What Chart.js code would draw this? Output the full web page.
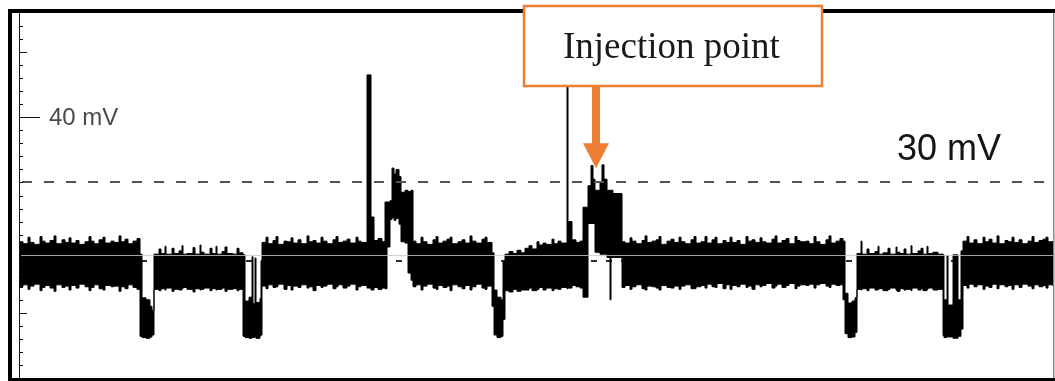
<!DOCTYPE html>
<html>
<head>
<meta charset="utf-8">
<title>Scope trace</title>
<script src="https://cdn.jsdelivr.net/npm/chart.js@4.4.1/dist/chart.umd.min.js"></script>
<style>
  html, body { margin: 0; padding: 0; background: #fff; }
  #wrap { width: 1055px; height: 381px; }
</style>
</head>
<body>
<div id="wrap"><canvas id="trace" width="1055" height="381"></canvas></div>
<script>
// peak-detect trace: for every sample time the max and min of the signal (mV)
// each value holds until the next sample time (stepped)
const traceTime = [
  // quiet band
  1, 4, 9, 11, 15, 21, 23, 26, 31, 35, 37, 43, 46, 50, 52, 57, 60, 66, 70, 72, 75, 80, 84, 86, 92, 95, 100, 102, 106, 109, 114, 118,
  // dip
  121, 123, 127, 131, 133,
  // low band
  135, 140, 142, 146, 147, 153, 155, 160, 163, 164, 168, 174, 176, 181, 182, 185, 191, 193, 197, 198, 203, 206, 208, 214, 218, 220,
  // double dip
  224, 226, 230, 233, 234, 236, 237, 241, 242,
  // quiet band
  243, 247, 249, 254, 257, 259, 265, 268, 272, 274, 279, 282, 288, 290, 294, 297, 302, 304, 308, 314, 317, 319, 324, 328, 331, 337, 339, 342,
  // spike
  348, 352,
  355, 359, 363,
  // first burst
  366, 368, 371, 373, 375, 377, 380, 382, 386, 389, 392,
  // quiet band
  394, 397, 402, 404, 408, 414, 417, 419, 424, 428, 431, 433, 439, 443, 446, 451, 453, 457, 463, 466, 468,
  // dip
  473, 475, 478, 482, 484,
  // low band, rising again
  486, 490, 494, 498, 502,
  506, 510, 513, 518, 520, 524, 527, 533, 535, 539, 542,
  // thin spike
  548, 549,
  553, 557, 561,
  // injection burst
  564, 569, 572, 574, 576, 581, 583, 585, 588, 591, 592, 594,
  // quiet band
  603, 606, 611, 613, 617, 623, 626, 628, 633, 637, 640, 642, 648, 652, 655, 660, 662, 666, 672, 675, 677,
  682, 686, 688, 693, 696, 698, 704, 707, 711, 713, 718, 721, 727, 729, 733, 736, 741, 743, 747, 753, 756, 758, 763, 767, 770, 776, 778, 781,
  787, 790, 795, 797, 801, 807, 810, 812, 817, 821,
  // dip
  824, 826, 829, 833, 836,
  // low band
  838, 842, 843, 848, 850, 856, 859, 860, 864, 869, 871, 877, 878, 881, 885, 887, 892, 893, 899, 902, 904, 908, 909, 914, 919,
  // double dip
  924, 925, 928, 929, 934, 939, 942,
  // quiet band
  944, 948, 950, 955, 958, 964, 966, 970, 973, 978, 980, 986, 989, 993, 995, 1000, 1003, 1009, 1013, 1015, 1020, 1024, 1027, 1029, 1034
];

const traceHigh = [
  20.9, 20.6, 21.6, 20.8, 20.5, 21.7, 21.0, 20.7, 21.1, 21.8, 20.6, 21.2, 20.8, 21.5, 20.7, 21.1, 20.5, 20.9, 21.7, 21.0, 20.6, 21.2, 21.6, 20.7, 21.0, 20.8, 21.8, 20.9, 21.3, 20.6, 21.0, 21.4,
  19.0, 12.3, 12.0, 11.0, 10.4,
  19.0, 19.8, 19.1, 20.2, 19.0, 19.9, 19.1, 19.5, 20.3, 19.0, 19.1, 20.0, 19.0, 20.4, 19.3, 19.0, 19.9, 19.1, 20.2, 19.0, 19.4, 20.1, 19.1, 19.0, 19.9, 19.2,
  18.9, 11.8, 12.4, 18.6, 11.4, 18.4, 11.6, 12.2, 18.0,
  20.8, 21.6, 20.6, 21.1, 21.7, 20.5, 21.0, 20.9, 21.5, 20.7, 21.2, 20.6, 21.8, 20.9, 21.1, 20.7, 21.6, 21.0, 20.6, 21.2, 21.7, 20.8, 21.0, 21.3, 20.7, 21.6, 21.0, 20.8,
  46.5, 24.7,
  21.1, 21.4, 20.9,
  27.0, 27.0, 27.2, 32.2, 31.3, 32.0, 30.9, 28.5, 28.8, 28.6, 28.8,
  21.0, 20.6, 21.6, 20.9, 20.5, 21.2, 21.7, 20.7, 21.0, 21.3, 21.6, 20.6, 20.9, 21.2, 20.7, 21.8, 21.0, 20.7, 21.3, 21.6, 20.8,
  19.2, 13.5, 12.4, 12.0, 17.9,
  19.0, 19.4, 19.1, 19.6, 19.2,
  19.9, 20.3, 19.8, 20.9, 20.4, 20.7, 20.5, 21.3, 20.6, 21.0, 20.7,
  56.0, 24.0,
  21.2, 20.8, 21.0,
  26.2, 29.5, 32.6, 30.5, 28.8, 30.0, 32.7, 30.5, 28.8, 28.8, 28.8, 28.3,
  20.9, 20.7, 21.5, 21.0, 20.6, 21.1, 21.8, 20.8, 21.0, 21.2, 21.7, 20.5, 21.0, 21.3, 20.8, 21.6, 20.9, 20.6, 21.2, 21.7, 20.7,
  20.9, 21.7, 20.7, 21.2, 21.6, 20.6, 21.1, 20.8, 21.6, 20.8, 21.1, 20.5, 21.7, 21.0, 21.2, 20.8, 21.5, 20.9, 20.7, 21.3, 21.8, 20.7, 21.1, 21.4, 20.6, 21.7, 21.1, 20.9,
  21.0, 20.6, 21.7, 20.9, 20.5, 21.2, 21.8, 20.7, 21.0, 21.4,
  21.0, 13.0, 11.5, 11.8, 12.3,
  19.1, 21.0, 19.0, 19.8, 19.1, 19.4, 20.2, 19.0, 19.2, 19.9, 19.0, 20.1, 19.3, 19.1, 19.8, 19.0, 20.3, 19.1, 19.5, 19.9, 19.0, 20.2, 19.1, 19.3, 19.0,
  18.9, 12.0, 18.8, 11.2, 18.9, 12.0, 19.5,
  21.0, 21.7, 20.7, 21.2, 20.6, 21.6, 20.9, 21.3, 20.7, 21.8, 20.6, 21.1, 20.9, 21.6, 20.8, 21.2, 20.6, 21.0, 21.7, 20.8, 21.1, 21.3, 21.6, 20.9, 21.0
];

const traceLow = [
  14.0, 14.3, 13.6, 14.1, 14.4, 13.4, 13.9, 14.2, 13.8, 13.3, 14.3, 13.9, 14.1, 13.5, 14.2, 13.8, 14.4, 14.0, 13.4, 13.9, 14.3, 13.7, 13.5, 14.2, 14.0, 14.1, 13.3, 14.0, 13.7, 14.3, 13.9, 13.6,
  6.4, 6.2, 6.1, 6.3, 6.6,
  13.6, 13.4, 13.7, 13.5, 13.8, 13.3, 13.6, 13.5, 13.7, 13.9, 13.6, 13.2, 13.7, 13.5, 13.6, 13.8, 13.4, 13.7, 13.5, 13.6, 13.8, 13.3, 13.6, 13.7, 13.4, 13.6,
  6.4, 6.2, 6.1, 6.3, 6.2, 6.4, 6.1, 6.5, 6.6,
  14.1, 13.7, 14.3, 13.9, 14.0, 14.4, 13.6, 14.2, 13.5, 14.1, 13.9, 14.3, 13.8, 14.0, 13.4, 14.2, 13.9, 14.1, 14.4, 13.7, 14.0, 14.3, 13.8, 14.1, 14.4, 13.5, 14.0, 14.2,
  13.8, 13.5,
  13.9, 13.6, 13.8,
  13.7, 20.1, 24.3, 24.6, 24.2, 24.5, 23.6, 20.9, 20.7, 16.1, 15.0,
  14.0, 14.3, 13.5, 14.1, 14.4, 13.8, 13.6, 14.2, 13.9, 14.1, 13.4, 14.3, 14.0, 13.7, 14.2, 13.5, 14.0, 14.4, 13.8, 13.6, 14.1,
  11.0, 6.6, 6.2, 6.4, 9.0,
  13.4, 13.2, 13.6, 13.3, 13.5,
  13.5, 13.8, 13.4, 13.6, 13.9, 13.5, 13.8, 13.4, 13.7, 13.6, 13.9,
  13.7, 13.8,
  14.2, 14.0, 13.8,
  12.4, 23.7, 23.7, 23.7, 19.3, 19.0, 19.0, 19.0, 18.5, 12.0, 18.5, 18.5,
  13.9, 14.2, 13.6, 14.0, 14.3, 13.7, 13.5, 14.1, 14.0, 13.8, 13.5, 14.2, 13.9, 13.8, 14.1, 13.6, 14.1, 14.3, 13.7, 13.7, 14.0,
  14.2, 13.8, 14.4, 14.0, 13.9, 14.5, 13.7, 14.3, 13.6, 14.2, 14.0, 14.4, 13.9, 14.1, 13.6, 14.3, 14.0, 14.2, 14.5, 13.8, 14.1, 14.4, 13.9, 14.2, 14.5, 13.7, 14.1, 14.3,
  14.2, 14.4, 13.8, 14.3, 14.5, 14.1, 13.9, 14.4, 14.2, 14.3,
  12.0, 6.8, 6.2, 6.3, 7.0,
  13.6, 13.5, 13.7, 13.4, 13.8, 13.5, 13.6, 13.7, 13.4, 13.6, 13.8, 13.5, 13.3, 13.7, 13.5, 13.6, 13.4, 13.8, 13.5, 13.7, 13.4, 13.6, 13.8, 13.5, 13.6,
  6.5, 6.2, 6.4, 6.3, 6.1, 6.4, 7.5,
  14.2, 13.8, 14.4, 14.0, 14.3, 13.6, 14.1, 13.9, 14.4, 13.7, 14.3, 14.0, 14.2, 13.6, 14.3, 13.9, 14.4, 14.1, 13.7, 14.3, 14.0, 14.2, 13.8, 14.3, 14.1
];

// y axis: small ticks every 2 mV, bigger ones where the scope marks them
const minorTicksMv = [2, 4, 6, 8, 10, 12, 14, 16, 18, 20, 22, 24, 26, 28, 30, 32, 34, 36, 38, 40, 42, 44, 46, 48, 50, 52, 54];
const mediumTicksMv = [50, 10];
const labelTickMv = 40;
const labelText = '40 mV';

const thresholdMv = 30;
const thresholdText = '30 mV';
const baselineMv = 18.9;   // light cursor line through the band
const markerMv = 18.0;     // dashed marker, only visible in gaps of the trace

const injectionTime = 577;
const injectionMv = 32.2;
const injectionText = 'Injection point';

console.log('lengths', traceTime.length, traceHigh.length, traceLow.length);

const ORANGE = '#ED7D31';

const scopeDecor = {
  id: 'scopeDecor',
  beforeDatasetsDraw(chart) {
    const { ctx, chartArea: a, scales: { y } } = chart;
    ctx.save();
    ctx.strokeStyle = '#2a2a2a';
    ctx.lineWidth = 2;
    ctx.setLineDash([6, 9]);
    const ym = Math.round(y.getPixelForValue(markerMv));
    ctx.beginPath();
    ctx.moveTo(a.left + 2, ym);
    ctx.lineTo(a.right, ym);
    ctx.stroke();
    ctx.restore();
  },
  afterDatasetsDraw(chart) {
    const { ctx, chartArea: a, scales: { x, y } } = chart;
    ctx.save();

    // cursor line through the band
    const yb = Math.round(y.getPixelForValue(baselineMv)) + 0.5;
    ctx.strokeStyle = 'rgba(200,200,200,0.8)';
    ctx.lineWidth = 1;
    ctx.beginPath();
    ctx.moveTo(a.left + 2, yb);
    ctx.lineTo(a.right, yb);
    ctx.stroke();

    // 30 mV threshold
    const yt = Math.round(y.getPixelForValue(thresholdMv));
    ctx.strokeStyle = '#555';
    ctx.lineWidth = 2;
    ctx.setLineDash([10, 12]);
    ctx.beginPath();
    ctx.moveTo(a.left + 3, yt);
    ctx.lineTo(a.right - 3, yt);
    ctx.stroke();
    ctx.setLineDash([]);

    ctx.fillStyle = '#151515';
    ctx.font = '36px "Liberation Sans", Arial, sans-serif';
    ctx.textBaseline = 'alphabetic';
    ctx.textAlign = 'left';
    ctx.fillText(thresholdText, 897, yt - 22);

    // axis line and ticks
    ctx.strokeStyle = '#111';
    ctx.lineWidth = 1;
    ctx.beginPath();
    ctx.moveTo(a.left + 0.5, a.top);
    ctx.lineTo(a.left + 0.5, a.bottom);
    minorTicksMv.forEach(v => {
      const py = Math.round(y.getPixelForValue(v)) + 0.5;
      let len = 4;
      if (mediumTicksMv.includes(v)) len = 8;
      if (v === labelTickMv) len = 21;
      ctx.moveTo(a.left, py);
      ctx.lineTo(a.left + len, py);
    });
    ctx.stroke();

    ctx.fillStyle = '#4a4a4a';
    ctx.font = '24px "Liberation Sans", Arial, sans-serif';
    ctx.textBaseline = 'middle';
    ctx.fillText(labelText, a.left + 30, y.getPixelForValue(labelTickMv) + 1);

    // frame
    ctx.fillStyle = '#000';
    ctx.fillRect(8, 9, 4, chart.height - 9);
    ctx.fillRect(8, 9, chart.width - 8, 4);
    ctx.fillRect(8, a.bottom, chart.width - 8, 3);
    ctx.fillStyle = '#8a8a8a';
    ctx.fillRect(a.right, 13, 1.5, a.bottom - 13);

    // annotation box + arrow
    const ax = x.getPixelForValue(injectionTime);
    const ay = y.getPixelForValue(injectionMv);
    const box = { l: 524, t: 6, r: 822, b: 86 };
    ctx.fillStyle = '#fff';
    ctx.fillRect(box.l, box.t, box.r - box.l, box.b - box.t);
    ctx.strokeStyle = ORANGE;
    ctx.lineWidth = 2.5;
    ctx.strokeRect(box.l, box.t, box.r - box.l, box.b - box.t);

    ctx.fillStyle = '#1a1a1a';
    ctx.font = '37px "Liberation Serif", "Times New Roman", serif';
    ctx.textBaseline = 'alphabetic';
    ctx.fillText(injectionText, 563, 58);

    ctx.fillStyle = ORANGE;
    ctx.fillRect(ax - 4, box.b + 1, 8, ay - 25 - box.b);
    ctx.beginPath();
    ctx.moveTo(ax - 13, ay - 25);
    ctx.lineTo(ax + 13, ay - 25);
    ctx.lineTo(ax, ay);
    ctx.closePath();
    ctx.fill();

    ctx.restore();
  }
};

const toPoints = vals => traceTime.map((t, i) => ({ x: t, y: vals[i] }));

new Chart(document.getElementById('trace'), {
  type: 'line',
  data: {
    datasets: [
      {
        label: 'max',
        data: toPoints(traceHigh),
        borderColor: '#000',
        borderWidth: 1,
        pointRadius: 0,
        stepped: true,
        fill: false
      },
      {
        label: 'min',
        data: toPoints(traceLow),
        borderColor: '#000',
        backgroundColor: '#000',
        borderWidth: 1,
        pointRadius: 0,
        stepped: true,
        fill: '-1'
      }
    ]
  },
  options: {
    responsive: false,
    animation: false,
    devicePixelRatio: 1,
    layout: { padding: { left: 19, top: 13, right: 2, bottom: 3 } },
    plugins: { legend: { display: false }, tooltip: { enabled: false } },
    scales: {
      x: { type: 'linear', min: 0, max: 1034, display: false },
      y: { min: 0, max: 56, display: false }
    }
  },
  plugins: [scopeDecor]
});
</script>
</body>
</html>
